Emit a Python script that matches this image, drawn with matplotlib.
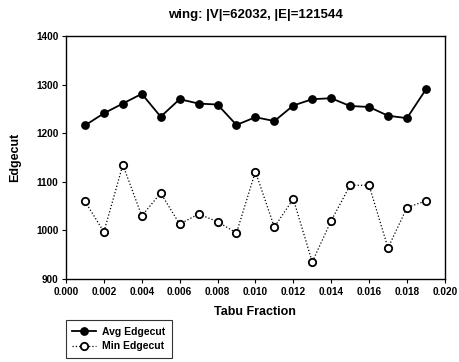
import matplotlib
matplotlib.use("Agg")
import matplotlib.pyplot as plt

tabu = [0.001, 0.002, 0.003, 0.004, 0.005, 0.006, 0.007, 0.008, 0.009, 0.010,
        0.011, 0.012, 0.013, 0.014, 0.015, 0.016, 0.017, 0.018, 0.019]
avg_edgecut = [1216, 1241, 1261, 1281, 1234, 1270, 1261, 1259, 1217, 1233,
               1225, 1257, 1270, 1272, 1256, 1254, 1236, 1231, 1290]
min_edgecut = [1060, 997, 1135, 1030, 1077, 1013, 1034, 1018, 995, 1121,
               1007, 1065, 935, 1020, 1093, 1093, 964, 1047, 1061]
xticks = [0.000, 0.002, 0.004, 0.006, 0.008, 0.010, 0.012, 0.014, 0.016, 0.018, 0.020]
yticks = [900, 1000, 1100, 1200, 1300, 1400]

plt.rcParams['font.family'] = ['Liberation Sans', 'DejaVu Sans']
plt.rcParams['font.weight'] = 'bold'

fig = plt.figure(figsize=(4.6, 3.62), dpi=100)
ax = fig.add_axes([0.1435, 0.229, 0.8235, 0.6716])

ax.plot(tabu, avg_edgecut, '-o', color='black', lw=1.3, ms=5.3, label='Avg Edgecut')
ax.plot(tabu, min_edgecut, ':o', color='black', lw=0.9, ms=5.3, mfc='white',
        mew=1.3, label='Min Edgecut')

ax.set_xlim(0, 0.020)
ax.set_ylim(900, 1400)
ax.set_xticks(xticks)
ax.set_xticklabels([f"{t:.3f}" for t in xticks])
ax.set_yticks(yticks)
ax.tick_params(direction='out', length=3, width=0.8, labelsize=7.2, pad=2.5)
for s in ax.spines.values():
    s.set_linewidth(1.0)

ax.set_title('wing: |V|=62032, |E|=121544', fontsize=9.5, fontweight='bold', pad=13)
ax.set_xlabel('Tabu Fraction', fontsize=9, fontweight='bold', labelpad=7)
ax.set_ylabel('Edgecut', fontsize=9, fontweight='bold', labelpad=11)

leg = fig.legend(loc='upper left', bbox_to_anchor=(0.1435, 0.115), fontsize=7.5,
                 frameon=True, fancybox=False, edgecolor='black',
                 handlelength=2.3, borderpad=0.6, labelspacing=0.45, handletextpad=0.6,
                 borderaxespad=0.0)
leg.get_frame().set_linewidth(0.8)

fig.savefig('out.png', dpi=100)
